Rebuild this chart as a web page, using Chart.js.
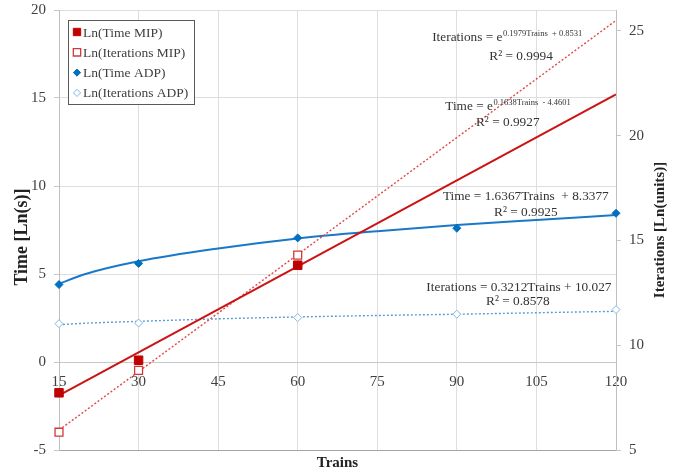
<!DOCTYPE html>
<html>
<head>
<meta charset="utf-8">
<script src="https://cdn.jsdelivr.net/npm/chart.js@4.4.0/dist/chart.umd.min.js"></script>
<style>
  html, body { margin: 0; padding: 0; background: #fff; }
</style>
</head>
<body>
<canvas id="chart" width="683" height="472"></canvas>
<script>
// measured points
const mipTrains = [15, 30, 60];
const adpTrains = [15, 30, 60, 90, 120];
const timeMIP = [-1.75, 0.1, 5.5];
const iterMIP = [5.85, 8.8, 14.3];
const timeADP = [4.4, 5.6, 7.05, 7.6, 8.45];
const iterADP = [11.03, 11.06, 11.32, 11.48, 11.7];

// trendlines
const mipTrendTrains = [15, 120];
const timeMIPTrend = [-1.9, 15.2];
const iterMIPTrend = [5.95, 25.5];
const adpTrendTrains = [15, 20, 30, 45, 60, 75, 90, 105, 120];
const timeADPTrend = [4.45, 5.0, 5.72, 6.45, 7.02, 7.43, 7.78, 8.07, 8.35];
const iterADPTrend = [10.98, 11.05, 11.14, 11.26, 11.35, 11.42, 11.48, 11.55, 11.62];

const xTicks = [15, 30, 45, 60, 75, 90, 105, 120];
const timeTicks = [-5, 0, 5, 10, 15, 20];
const iterTicks = [5, 10, 15, 20, 25];

const seriesNames = ['Ln(Time MIP)', 'Ln(Iterations MIP)', 'Ln(Time ADP)', 'Ln(Iterations ADP)'];
const trendEquations = [
  ['Iterations = e', '0.1979Trains  + 0.8531'],
  ['Time = e', '0.1638Trains  - 4.4601'],
  ['Time = 1.6367Trains  + 8.3377', ''],
  ['Iterations = 0.3212Trains + 10.027', '']
];
const trendR2 = ['R² = 0.9994', 'R² = 0.9927', 'R² = 0.9925', 'R² = 0.8578'];

const SERIF = '"Liberation Serif", "Times New Roman", serif';
const RED = '#c00000';
const BLUE = '#0070c0';

const pts = (xs, ys) => xs.map((x, i) => ({x: x, y: ys[i]}));

function drawMarker(ctx, style, x, y, r) {
  ctx.beginPath();
  if (style === 'rect') {
    const s = r * Math.SQRT1_2;
    ctx.rect(x - s, y - s, 2 * s, 2 * s);
  } else {
    ctx.moveTo(x - r, y);
    ctx.lineTo(x, y - r);
    ctx.lineTo(x + r, y);
    ctx.lineTo(x, y + r);
    ctx.closePath();
  }
  ctx.fill();
  ctx.stroke();
}

const overlay = {
  id: 'overlay',
  afterDraw(chart) {
    const {ctx, chartArea, scales} = chart;
    const ds = chart.data.datasets;
    ctx.save();

    // legend box
    const lx = chartArea.left + 9, ly = chartArea.top + 10, lw = 126, lh = 84;
    ctx.fillStyle = '#fff';
    ctx.fillRect(lx, ly, lw, lh);
    ctx.strokeStyle = '#595959';
    ctx.lineWidth = 1;
    ctx.strokeRect(lx + 0.5, ly + 0.5, lw, lh);
    ctx.textBaseline = 'middle';
    ctx.textAlign = 'left';
    seriesNames.forEach((name, i) => {
      const d = ds[i];
      const cy = ly + 12 + i * 20.3;
      ctx.fillStyle = d.backgroundColor;
      ctx.strokeStyle = d.borderColor;
      ctx.lineWidth = d.borderWidth;
      drawMarker(ctx, d.pointStyle, lx + 9, cy, d.pointStyle === 'rect' ? 5.2 : 3.6);
      ctx.fillStyle = '#404040';
      ctx.font = '13.5px ' + SERIF;
      ctx.fillText(name, lx + 15, cy + 1);
    });

    // trendline labels, anchored in x / left-axis units
    const spots = [
      [99.45, 18.41, 102.1, 17.33],
      [99.6, 14.49, 99.6, 13.58],
      [103.0, 9.43, 103.0, 8.52],
      [101.7, 4.26, 101.5, 3.41]
    ];
    ctx.fillStyle = '#333';
    trendEquations.forEach((eq, i) => {
      const sp = spots[i];
      const cx = scales.x.getPixelForValue(sp[0]);
      const cy = scales.y.getPixelForValue(sp[1]);
      ctx.font = '13.3px ' + SERIF;
      const w1 = ctx.measureText(eq[0]).width;
      ctx.font = '8.5px ' + SERIF;
      const w2 = eq[1] ? ctx.measureText(eq[1]).width : 0;
      const x0 = cx - (w1 + w2) / 2;
      ctx.font = '13.3px ' + SERIF;
      ctx.textAlign = 'left';
      ctx.fillText(eq[0], x0, cy);
      if (eq[1]) {
        ctx.font = '8.5px ' + SERIF;
        ctx.fillText(eq[1], x0 + w1 + 0.5, cy - 4);
      }
      ctx.font = '13.3px ' + SERIF;
      ctx.textAlign = 'center';
      ctx.fillText(trendR2[i], scales.x.getPixelForValue(sp[2]), scales.y.getPixelForValue(sp[3]));
    });

    // axis titles, both reading bottom to top
    ctx.fillStyle = '#222';
    ctx.textAlign = 'center';
    ctx.save();
    ctx.translate(22, (chartArea.top + chartArea.bottom) / 2 + 7);
    ctx.rotate(-Math.PI / 2);
    ctx.font = 'bold 18px ' + SERIF;
    ctx.fillText('Time [Ln(s)]', 0, 0);
    ctx.restore();
    ctx.translate(660, (chartArea.top + chartArea.bottom) / 2);
    ctx.rotate(-Math.PI / 2);
    ctx.font = 'bold 15px ' + SERIF;
    ctx.fillText('Iterations [Ln(units)]', 0, 0);
    ctx.restore();
  }
};

const gridColor = (c) => {
  if (c.tick && c.tick.value === -5) return '#a6a6a6';
  if (c.tick && c.tick.value === 0) return '#c8c8c8';
  return '#dedede';
};

new Chart(document.getElementById('chart'), {
  type: 'scatter',
  data: {
    datasets: [
      {label: seriesNames[0], data: pts(mipTrains, timeMIP), yAxisID: 'y', pointStyle: 'rect', clip: false,
       pointRadius: 6, backgroundColor: RED, borderColor: RED, borderWidth: 1},
      {label: seriesNames[1], data: pts(mipTrains, iterMIP), yAxisID: 'y2', pointStyle: 'rect', clip: false,
       pointRadius: 5.6, backgroundColor: '#fff', borderColor: '#d03a3a', borderWidth: 1.3},
      {label: seriesNames[2], data: pts(adpTrains, timeADP), yAxisID: 'y', pointStyle: 'rectRot', clip: false,
       pointRadius: 4, backgroundColor: BLUE, borderColor: BLUE, borderWidth: 1},
      {label: seriesNames[3], data: pts(adpTrains, iterADP), yAxisID: 'y2', pointStyle: 'rectRot', clip: false,
       pointRadius: 4, backgroundColor: '#fff', borderColor: '#82b6e4', borderWidth: 1},
      {label: 'trend time MIP', data: pts(mipTrendTrains, timeMIPTrend), yAxisID: 'y', showLine: true,
       pointRadius: 0, borderColor: '#cc1212', borderWidth: 2},
      {label: 'trend iter MIP', data: pts(mipTrendTrains, iterMIPTrend), yAxisID: 'y2', showLine: true,
       pointRadius: 0, borderColor: '#e04848', borderWidth: 1.4, borderDash: [2, 2]},
      {label: 'trend time ADP', data: pts(adpTrendTrains, timeADPTrend), yAxisID: 'y', showLine: true,
       pointRadius: 0, borderColor: '#1a78c8', borderWidth: 2, cubicInterpolationMode: 'monotone'},
      {label: 'trend iter ADP', data: pts(adpTrendTrains, iterADPTrend), yAxisID: 'y2', showLine: true,
       pointRadius: 0, borderColor: '#5b9bd5', borderWidth: 1.4, borderDash: [2, 2], cubicInterpolationMode: 'monotone'}
    ]
  },
  options: {
    responsive: false,
    animation: false,
    layout: {padding: {top: 10, left: 0, right: 0, bottom: 0}},
    plugins: {legend: {display: false}, tooltip: {enabled: false}},
    scales: {
      x: {
        type: 'linear', position: 'bottom', min: 15, max: 120,
        afterBuildTicks: s => { s.ticks = xTicks.map(v => ({value: v})); },
        ticks: {display: false},
        grid: {color: '#dedede', drawTicks: false},
        border: {display: false},
        title: {display: true, text: 'Trains', color: '#222', font: {family: SERIF, size: 15, weight: 'bold'}, padding: {top: 0, bottom: 0}},
        afterFit: s => { s.height = 22; }
      },
      x2: {
        type: 'linear', axis: 'x', position: {y: 0}, min: 15, max: 120,
        afterBuildTicks: s => { s.ticks = xTicks.map(v => ({value: v})); },
        ticks: {color: '#404040', font: {family: SERIF, size: 15}, padding: 11, maxRotation: 0},
        grid: {display: false, drawTicks: false},
        border: {display: false}
      },
      y: {
        type: 'linear', position: 'left', min: -5, max: 20,
        afterBuildTicks: s => { s.ticks = timeTicks.map(v => ({value: v})); },
        ticks: {color: '#404040', font: {family: SERIF, size: 15}, padding: 8},
        grid: {color: gridColor, tickLength: 5, tickColor: '#c8c8c8'},
        border: {display: true, color: '#bfbfbf'},
        afterFit: s => { s.width = 59; s.paddingTop = 0; s.paddingBottom = 0; }
      },
      y2: {
        type: 'linear', position: 'right', min: 5, max: 26,
        afterBuildTicks: s => { s.ticks = iterTicks.map(v => ({value: v})); },
        ticks: {color: '#404040', font: {family: SERIF, size: 15}, padding: 8},
        grid: {drawOnChartArea: false, tickLength: 5, tickColor: '#c8c8c8'},
        border: {display: true, color: '#bfbfbf'},
        afterFit: s => { s.width = 67; s.paddingTop = 0; s.paddingBottom = 0; }
      }
    }
  },
  plugins: [overlay]
});
</script>
</body>
</html>
